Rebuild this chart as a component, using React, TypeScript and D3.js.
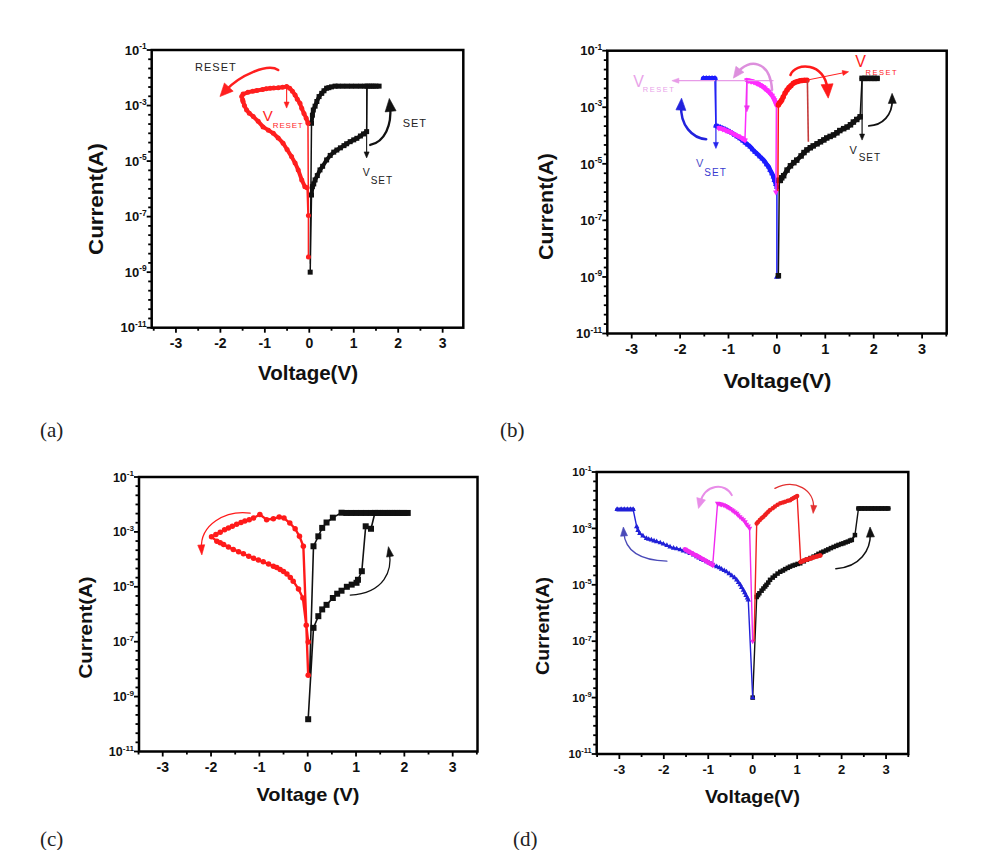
import React from 'react';
import * as d3 from 'd3';

type Pt = [number, number];
type Mk = 'square' | 'circle' | 'up' | 'down';

// ---------------- shared ticks ----------------
const voltTicks = [-3, -2, -1, 0, 1, 2, 3];
const expLabels = [-11, -9, -7, -5, -3, -1];
const panelLabels = ['(a)', '(b)', '(c)', '(d)'];

// ---------------- (a) ----------------
const aSetStart: Pt[] = [[0.02, 1e-9]];
const aSetHRS: Pt[] = [[0.05, 6e-7], [0.07, 1.2e-6], [0.1, 1.5e-6], [0.13, 2.1e-6], [0.18, 3e-6], [0.24, 4.8e-6], [0.3, 6.5e-6], [0.39, 1.1e-5], [0.47, 1.6e-5], [0.55, 2.1e-5], [0.62, 2.5e-5], [0.7, 3e-5], [0.78, 3.6e-5], [0.84, 4.2e-5], [0.92, 5e-5], [1.0, 5.8e-5], [1.07, 6.6e-5], [1.15, 8e-5], [1.22, 9.5e-5], [1.29, 1.15e-4]];
const aSetLRS: Pt[] = [[1.3, 5e-3], [1.4, 5e-3], [1.5, 5e-3], [1.57, 5e-3], [1.45, 5e-3], [1.35, 5e-3], [1.25, 5e-3], [1.15, 5e-3], [1.05, 5e-3], [0.95, 5e-3], [0.85, 5e-3], [0.75, 5e-3], [0.65, 5e-3], [0.58, 5e-3], [0.5, 4.7e-3], [0.44, 4.4e-3], [0.39, 4.2e-3], [0.33, 3.4e-3], [0.28, 2.75e-3], [0.22, 2.1e-3], [0.17, 1.4e-3], [0.13, 9.5e-4], [0.09, 6.9e-4], [0.07, 4.5e-4], [0.05, 2.3e-4]];
const aSetEnd: Pt[] = [[0.02, 2e-9]];
const aResetStart: Pt[] = [[-0.02, 3.5e-9], [-0.02, 1.1e-7]];
const aResetLRS: Pt[] = [[-0.03, 2.3e-4], [-0.07, 3.5e-4], [-0.12, 5.2e-4], [-0.17, 8e-4], [-0.21, 1.2e-3], [-0.27, 1.7e-3], [-0.32, 2.4e-3], [-0.38, 3.3e-3], [-0.44, 4.2e-3], [-0.51, 4.8e-3], [-0.6, 4.6e-3], [-0.7, 4.4e-3], [-0.8, 4.3e-3], [-0.88, 4.2e-3], [-0.97, 4e-3], [-1.05, 3.8e-3], [-1.18, 3.5e-3], [-1.27, 3.3e-3], [-1.38, 3e-3], [-1.49, 2.6e-3], [-1.52, 2.1e-3]];
const aResetHRS: Pt[] = [[-1.5, 1.6e-3], [-1.49, 1.4e-3], [-1.46, 1e-3], [-1.41, 6.9e-4], [-1.35, 5.3e-4], [-1.26, 4e-4], [-1.15, 2.7e-4], [-1.04, 1.7e-4], [-0.92, 1.3e-4], [-0.81, 1e-4], [-0.7, 6.8e-5], [-0.59, 4.4e-5], [-0.5, 2.6e-5], [-0.4, 1.45e-5], [-0.32, 8.5e-6], [-0.25, 4.8e-6], [-0.17, 2.1e-6], [-0.1, 1.2e-6], [-0.05, 1.1e-6]];
const aResetEnd: Pt[] = [[-0.03, 1.1e-7]];

// ---------------- (b) ----------------
const bSetStart: Pt[] = [[0.03, 1.1e-9]];
const bSetHRS: Pt[] = [[0.05, 2.6e-6], [0.07, 2.6e-6], [0.1, 3.2e-6], [0.14, 3.8e-6], [0.21, 6e-6], [0.28, 8.5e-6], [0.35, 1.1e-5], [0.41, 1.35e-5], [0.5, 1.9e-5], [0.56, 2.5e-5], [0.62, 3.1e-5], [0.69, 3.7e-5], [0.75, 4.3e-5], [0.83, 5.1e-5], [0.9, 6e-5], [0.97, 7e-5], [1.03, 8.2e-5], [1.1, 9.3e-5], [1.17, 1.05e-4], [1.24, 1.25e-4], [1.3, 1.5e-4], [1.38, 1.75e-4], [1.45, 2e-4], [1.52, 2.4e-4], [1.58, 3e-4], [1.65, 3.7e-4], [1.72, 4.6e-4]];
const bSetLRS: Pt[] = [[1.76, 1.05e-2], [1.82, 1.05e-2], [1.88, 1.05e-2], [1.95, 1.05e-2], [2.01, 1.05e-2], [2.07, 1.05e-2]];
const bResetPosStart: Pt[] = [[0.02, 1.1e-6]];
const bResetPosLRS: Pt[] = [[0.03, 1.2e-3], [0.05, 1.4e-3], [0.08, 1.6e-3], [0.1, 1.8e-3], [0.13, 2.3e-3], [0.17, 3.2e-3], [0.21, 4.1e-3], [0.25, 5e-3], [0.29, 5.8e-3], [0.34, 7.1e-3], [0.38, 7.7e-3], [0.43, 8.2e-3], [0.48, 8.7e-3], [0.52, 8.9e-3], [0.57, 9e-3], [0.62, 9.1e-3]];
const bResetPosDrop: Pt[] = [[0.63, 9.1e-3], [0.65, 6e-5]];
const bResetNegStart: Pt[] = [[-0.02, 1e-6]];
const bResetNegLRS: Pt[] = [[-0.01, 1.2e-3], [-0.03, 1.5e-3], [-0.05, 1.8e-3], [-0.07, 2.1e-3], [-0.1, 2.6e-3], [-0.14, 3.1e-3], [-0.17, 3.6e-3], [-0.21, 4.1e-3], [-0.25, 4.7e-3], [-0.28, 5.2e-3], [-0.32, 5.8e-3], [-0.35, 6.2e-3], [-0.39, 6.8e-3], [-0.42, 7.2e-3], [-0.45, 7.6e-3], [-0.48, 7.9e-3], [-0.52, 8.3e-3], [-0.55, 8.5e-3], [-0.59, 8.8e-3], [-0.62, 9.1e-3]];
const bResetNegHRS: Pt[] = [[-0.66, 6.9e-5], [-0.72, 8e-5], [-0.8, 9.5e-5], [-0.88, 1.1e-4], [-0.97, 1.35e-4], [-1.05, 1.5e-4], [-1.12, 1.7e-4], [-1.2, 1.85e-4]];
const bSetNegStart: Pt[] = [[0.0, 1e-9]];
const bSetNegHRS: Pt[] = [[0, 1.5e-6], [-0.02, 1.9e-6], [-0.05, 2.6e-6], [-0.07, 3.5e-6], [-0.1, 4.5e-6], [-0.14, 6e-6], [-0.17, 7.9e-6], [-0.21, 9.5e-6], [-0.25, 1.2e-5], [-0.3, 1.5e-5], [-0.35, 1.8e-5], [-0.4, 2.2e-5], [-0.45, 2.6e-5], [-0.5, 3.2e-5], [-0.55, 4e-5], [-0.6, 4.7e-5], [-0.65, 5.5e-5], [-0.7, 6.5e-5], [-0.76, 7.9e-5], [-0.82, 9.2e-5], [-0.87, 1.05e-4], [-0.92, 1.2e-4], [-0.97, 1.35e-4], [-1.02, 1.5e-4], [-1.07, 1.65e-4], [-1.12, 1.8e-4], [-1.17, 1.95e-4], [-1.22, 2.1e-4], [-1.26, 2.2e-4]];
const bSetNegLRS: Pt[] = [[-1.28, 1.05e-2], [-1.34, 1.05e-2], [-1.4, 1.05e-2], [-1.46, 1.05e-2], [-1.52, 1.05e-2]];

// ---------------- (c) ----------------
const cSetHRS: Pt[] = [[0.01, 1.5e-10], [0.12, 3.2e-7], [0.22, 8.5e-7], [0.3, 1.5e-6], [0.39, 2.2e-6], [0.52, 3.9e-6], [0.61, 5.6e-6], [0.7, 7.2e-6], [0.81, 1e-5], [0.91, 1.2e-5], [1.01, 1.4e-5], [1.04, 1.8e-5], [1.12, 3.7e-5], [1.2, 1.6e-3], [1.31, 1.3e-3], [1.39, 4.9e-3]];
const cSetFlat: Pt[] = [[1.39, 4.9e-3], [1.5, 4.9e-3], [1.6, 4.9e-3], [1.7, 4.9e-3], [1.8, 4.9e-3], [1.9, 4.9e-3], [2.0, 4.9e-3], [2.07, 4.9e-3], [1.95, 4.9e-3], [1.85, 4.9e-3], [1.75, 4.9e-3], [1.65, 4.9e-3], [1.55, 4.9e-3], [1.45, 4.9e-3], [1.3, 4.9e-3], [1.2, 4.9e-3], [1.1, 4.9e-3], [1.0, 4.9e-3], [0.9, 4.9e-3], [0.8, 4.9e-3], [0.7, 5e-3]];
const cSetLRS: Pt[] = [[0.52, 3.3e-3], [0.39, 2.2e-3], [0.3, 1.4e-3], [0.22, 6.9e-4], [0.12, 3e-4]];
const cSetEnd: Pt[] = [[0.04, 6e-9]];
const cReset: Pt[] = [[0.01, 6e-9], [-0.09, 3e-4], [-0.17, 6.9e-4], [-0.26, 1.3e-3], [-0.37, 2.1e-3], [-0.49, 3.2e-3], [-0.59, 3.5e-3], [-0.71, 3e-3], [-0.85, 2.8e-3], [-0.99, 4.3e-3], [-1.12, 3.2e-3], [-1.21, 2.8e-3], [-1.3, 2.5e-3], [-1.38, 2.2e-3], [-1.47, 1.9e-3], [-1.56, 1.6e-3], [-1.64, 1.4e-3], [-1.72, 1.2e-3], [-1.81, 9.8e-4], [-1.9, 8e-4], [-1.99, 6.6e-4], [-1.88, 4.6e-4], [-1.81, 4e-4], [-1.74, 3.5e-4], [-1.64, 2.8e-4], [-1.54, 2.3e-4], [-1.43, 1.9e-4], [-1.33, 1.6e-4], [-1.22, 1.3e-4], [-1.12, 1.1e-4], [-1.02, 9.4e-5], [-0.92, 8.1e-5], [-0.81, 6.7e-5], [-0.71, 5.6e-5], [-0.64, 5e-5], [-0.57, 4.3e-5], [-0.5, 3.6e-5], [-0.43, 2.9e-5], [-0.36, 2.2e-5], [-0.3, 1.6e-5], [-0.19, 8.3e-6], [-0.1, 3.9e-6], [-0.03, 4e-7], [0.01, 9.8e-8]];

// ---------------- (d) ----------------
const dSetStart: Pt[] = [[0.0, 1e-9]];
const dSetHRS: Pt[] = [[0.09, 3.7e-6], [0.12, 4.3e-6], [0.15, 5e-6], [0.2, 6.2e-6], [0.24, 7.4e-6], [0.28, 8.7e-6], [0.31, 1e-5], [0.35, 1.2e-5], [0.39, 1.5e-5], [0.45, 1.8e-5], [0.5, 2.1e-5], [0.56, 2.5e-5], [0.62, 2.9e-5], [0.68, 3.2e-5], [0.73, 3.6e-5], [0.79, 4e-5], [0.84, 4.4e-5], [0.9, 4.8e-5], [0.95, 5.1e-5], [1.01, 5.5e-5], [1.07, 5.8e-5], [1.15, 6.8e-5], [1.22, 7.8e-5], [1.3, 8.9e-5], [1.37, 1e-4], [1.43, 1.1e-4], [1.48, 1.25e-4], [1.54, 1.38e-4], [1.59, 1.5e-4], [1.65, 1.65e-4], [1.7, 1.8e-4], [1.76, 2e-4], [1.82, 2.2e-4], [1.88, 2.4e-4], [1.93, 2.6e-4], [1.99, 2.8e-4], [2.04, 2.95e-4], [2.09, 3.2e-4], [2.14, 3.4e-4], [2.19, 3.7e-4], [2.23, 3.9e-4], [2.3, 5.8e-4]];
const dSetLRS: Pt[] = [[2.38, 5.1e-3], [2.45, 5.1e-3], [2.52, 5.1e-3], [2.6, 5.1e-3], [2.68, 5.1e-3], [2.75, 5.1e-3], [2.83, 5.1e-3], [2.9, 5.1e-3], [2.98, 5.1e-3], [3.05, 5.1e-3]];
const dResetPosStart: Pt[] = [[0.03, 1e-7]];
const dResetPosLRS: Pt[] = [[0.09, 1.5e-3], [0.12, 1.7e-3], [0.16, 2e-3], [0.2, 2.3e-3], [0.24, 2.6e-3], [0.28, 3e-3], [0.31, 3.4e-3], [0.35, 3.9e-3], [0.39, 4.5e-3], [0.45, 5.2e-3], [0.5, 6e-3], [0.56, 6.9e-3], [0.62, 7.8e-3], [0.68, 8.3e-3], [0.73, 8.9e-3], [0.79, 9.5e-3], [0.84, 1e-2], [0.88, 1.1e-2], [0.92, 1.2e-2], [0.96, 1.3e-2], [1.0, 1.4e-2]];
const dResetPosHRS: Pt[] = [[1.08, 6.5e-5], [1.15, 7.2e-5], [1.22, 7.9e-5], [1.3, 8.6e-5], [1.37, 9.4e-5], [1.45, 1.02e-4], [1.52, 1.1e-4]];
const dResetNegStart: Pt[] = [[0.0, 1e-7]];
const dResetNegLRS: Pt[] = [[-0.07, 1e-3], [-0.1, 1.2e-3], [-0.14, 1.4e-3], [-0.17, 1.7e-3], [-0.21, 2e-3], [-0.25, 2.3e-3], [-0.29, 2.6e-3], [-0.33, 3e-3], [-0.36, 3.4e-3], [-0.4, 3.8e-3], [-0.44, 4.2e-3], [-0.47, 4.6e-3], [-0.51, 5.1e-3], [-0.55, 5.5e-3], [-0.58, 5.9e-3], [-0.62, 6.4e-3], [-0.66, 6.8e-3], [-0.7, 7.1e-3], [-0.73, 7.3e-3], [-0.76, 7.6e-3], [-0.79, 7.8e-3]];
const dResetNegHRS: Pt[] = [[-0.9, 5e-5], [-0.98, 6e-5], [-1.06, 7.2e-5], [-1.14, 8.5e-5], [-1.22, 1e-4], [-1.3, 1.15e-4], [-1.38, 1.35e-4], [-1.45, 1.55e-4], [-1.52, 1.8e-4]];
const dSetNegStart: Pt[] = [[0.0, 1e-9]];
const dSetNegHRS: Pt[] = [[-0.1, 2.9e-6], [-0.12, 3.4e-6], [-0.15, 4.2e-6], [-0.18, 5.2e-6], [-0.21, 6.5e-6], [-0.25, 8e-6], [-0.28, 1e-5], [-0.32, 1.2e-5], [-0.36, 1.5e-5], [-0.41, 1.8e-5], [-0.47, 2.1e-5], [-0.53, 2.5e-5], [-0.59, 2.9e-5], [-0.64, 3.2e-5], [-0.7, 3.6e-5], [-0.75, 4e-5], [-0.81, 4.4e-5], [-0.87, 4.9e-5], [-0.92, 5.5e-5], [-0.98, 6e-5], [-1.04, 6.6e-5], [-1.1, 7.3e-5], [-1.15, 8e-5], [-1.21, 9e-5], [-1.26, 1e-4], [-1.33, 1.15e-4], [-1.41, 1.3e-4], [-1.48, 1.45e-4], [-1.56, 1.6e-4], [-1.63, 1.75e-4], [-1.71, 1.9e-4], [-1.78, 2e-4], [-1.86, 2.2e-4], [-1.93, 2.5e-4], [-2.01, 2.8e-4], [-2.08, 3.1e-4], [-2.16, 3.4e-4], [-2.22, 3.6e-4], [-2.28, 3.9e-4], [-2.34, 4.1e-4], [-2.39, 4.4e-4], [-2.47, 5.4e-4], [-2.54, 6.6e-4], [-2.58, 8.5e-4], [-2.61, 1.15e-3]];
const dSetNegLRS: Pt[] = [[-2.69, 4.7e-3], [-2.75, 4.7e-3], [-2.82, 4.7e-3], [-2.89, 4.7e-3], [-2.96, 4.7e-3], [-3.05, 4.7e-3]];

// ---------------- annotations (data units) ----------------
const aArrowReset: Pt[] = [[-0.7, 0.019], [-0.93, 0.034], [-1.56, 0.0126], [-2.01, 0.0021]];
const aArrowVreset: Pt[] = [[-0.51, 4.9e-3], [-0.51, 8.1e-4]];
const aArrowVset: Pt[] = [[1.29, 5e-3], [1.29, 1.3e-5]];
const aArrowSet: Pt[] = [[1.37, 3.8e-5], [1.7, 4.9e-5], [1.86, 2e-4], [1.8, 1.8e-3]];
const bArrowPinkLine: Pt[] = [[-0.08, 8.7e-3], [-2.17, 8.7e-3]];
const bArrowPinkCurve: Pt[] = [[-0.1, 4.1e-3], [-0.14, 0.047], [-0.59, 0.055], [-0.9, 0.0107]];
const bArrowMagDown: Pt[] = [[-0.62, 9.1e-3], [-0.62, 6.9e-4]];
const bArrowBlueDown: Pt[] = [[-1.26, 9.1e-3], [-1.26, 3.5e-5]];
const bArrowBlueCurve: Pt[] = [[-1.46, 7.4e-5], [-1.75, 8.1e-5], [-2.0, 2.3e-4], [-1.97, 2.1e-3]];
const bArrowRedLine: Pt[] = [[0.62, 9.1e-3], [1.48, 0.018]];
const bArrowRedCurve: Pt[] = [[0.28, 0.0138], [0.38, 0.04], [1.0, 0.04], [1.06, 2.1e-3]];
const bArrowBlackDown: Pt[] = [[1.76, 9.1e-3], [1.76, 6.9e-5]];
const bArrowBlackCurve: Pt[] = [[1.9, 2.2e-4], [2.18, 2.3e-4], [2.39, 5.2e-4], [2.38, 3.1e-3]];
const cArrowRed: Pt[] = [[-1.19, 4.8e-3], [-1.71, 6.3e-3], [-2.23, 1.8e-3], [-2.19, 1.45e-4]];
const cArrowBlack: Pt[] = [[0.88, 5e-6], [1.6, 5.9e-6], [1.75, 4.1e-5], [1.67, 2.9e-4]];
const dArrowBlue: Pt[] = [[-1.93, 6.9e-5], [-2.54, 7.4e-5], [-2.87, 1.66e-4], [-2.91, 1.12e-3]];
const dArrowMag: Pt[] = [[-0.47, 0.0151], [-0.62, 0.0437], [-1.07, 0.0372], [-1.22, 5.1e-3]];
const dArrowRed: Pt[] = [[0.5, 0.0263], [0.95, 0.0617], [1.4, 0.0229], [1.36, 3.4e-3]];
const dArrowBlack: Pt[] = [[1.87, 3.7e-5], [2.41, 4.2e-5], [2.66, 1.66e-4], [2.64, 1.12e-3]];

// ---------------- rendering ----------------
const FONT = "Arial, 'Liberation Sans', Helvetica, sans-serif";
const SERIF = "'Times New Roman', 'Liberation Serif', serif";

interface Seg { pts: Pt[]; w: number; mk: boolean }
interface Series { color: string; mk: Mk; size: number; lw: number; segs: Seg[] }
interface Arrow { p: Pt[]; color: string; w: number; head: [number, number] }
interface Note { at: Pt; text: string; size: number; color: string; ls?: number }
interface Cfg {
  l: number; r: number; x0: number; pxV: number; y1: number; y11: number;
  label: string; labelXY: [number, number];
  xTitle: string; xTitleXY: [number, number]; xTitleLen: number;
  yTitleXY: [number, number]; yTitleLen: number; titleSize: number;
  tickSize: number; expBase: number;
  series: Series[]; arrows: Arrow[]; notes: Note[];
}

const seg = (pts: Pt[], w = 0, mk = true): Seg => ({ pts, w, mk });

function symbolPath(mk: Mk, s: number): string {
  if (mk === 'square') return d3.symbol().type(d3.symbolSquare).size(s * s)() || '';
  if (mk === 'circle') return d3.symbol().type(d3.symbolCircle).size((Math.PI * s * s) / 4)() || '';
  return d3.symbol().type(d3.symbolTriangle).size(s * s * 0.5)() || '';
}

const BLK = '#111';

const cfgs: Cfg[] = [
  {
    l: 151.7, r: 463.3, x0: 309.3, pxV: 44.45, y1: 50, y11: 327.7,
    label: panelLabels[0], labelXY: [40, 437],
    xTitle: 'Voltage(V)', xTitleXY: [308, 380], xTitleLen: 100,
    yTitleXY: [96, 199], yTitleLen: 112, titleSize: 20, tickSize: 14, expBase: 13,
    series: [
      { color: BLK, mk: 'square', size: 5, lw: 1.5, segs: [seg(aSetStart), seg(aSetHRS, 4), seg(aSetLRS, 4), seg(aSetEnd, 0, false)] },
      { color: '#ff1f1f', mk: 'circle', size: 5, lw: 1.5, segs: [seg(aResetStart), seg(aResetLRS, 4), seg(aResetHRS, 4), seg(aResetEnd, 0, false)] },
    ],
    arrows: [
      { p: aArrowReset, color: '#ff1f1f', w: 2.5, head: [13, 6] },
      { p: aArrowVreset, color: '#ff1f1f', w: 1.1, head: [6, 2.5] },
      { p: aArrowVset, color: BLK, w: 1.1, head: [6, 2.5] },
      { p: aArrowSet, color: BLK, w: 2.3, head: [13, 5.5] },
    ],
    notes: [
      { at: [-2.57, 0.0174], text: 'RESET', size: 11, color: '#222', ls: 1 },
      { at: [2.1, 1.74e-4], text: 'SET', size: 11, color: '#222', ls: 1 },
      { at: [-1.05, 2.8e-4], text: 'V', size: 15, color: '#ff1f1f' },
      { at: [-0.82, 1.5e-4], text: 'RESET', size: 8, color: '#ff1f1f', ls: 0.8 },
      { at: [1.2, 2.8e-6], text: 'V', size: 10.5, color: '#222' },
      { at: [1.38, 1.5e-6], text: 'SET', size: 10, color: '#222', ls: 1 },
    ],
  },
  {
    l: 607.3, r: 946.7, x0: 776.9, pxV: 48.4, y1: 50.7, y11: 333.5,
    label: panelLabels[1], labelXY: [500, 437],
    xTitle: 'Voltage(V)', xTitleXY: [777.5, 388], xTitleLen: 108,
    yTitleXY: [546, 206.5], yTitleLen: 107, titleSize: 20, tickSize: 14.5, expBase: 13,
    series: [
      { color: '#1c1cff', mk: 'up', size: 5.5, lw: 1.5, segs: [seg(bSetNegStart), seg(bSetNegHRS, 4.5), seg(bSetNegLRS, 5)] },
      { color: '#ff2bff', mk: 'down', size: 5.5, lw: 1.5, segs: [seg(bResetNegStart), seg(bResetNegLRS, 4.5), seg(bResetNegHRS, 4.5)] },
      { color: BLK, mk: 'square', size: 5.5, lw: 1.5, segs: [seg(bSetStart), seg(bSetHRS, 4.5), seg(bSetLRS, 5)] },
      { color: '#ff1414', mk: 'circle', size: 5.5, lw: 1.5, segs: [seg(bResetPosStart, 0, false), seg(bResetPosLRS, 4.5)] },
      { color: '#c43a3a', mk: 'circle', size: 0, lw: 1.6, segs: [seg(bResetPosDrop, 0, false)] },
    ],
    arrows: [
      { p: bArrowPinkLine, color: '#e79be7', w: 1.3, head: [7, 2.5] },
      { p: bArrowPinkCurve, color: '#dd8fdd', w: 2.5, head: [11, 5] },
      { p: bArrowMagDown, color: '#ee33ee', w: 1.2, head: [6, 2.5] },
      { p: bArrowBlueDown, color: '#2525ee', w: 1.2, head: [6, 2.5] },
      { p: bArrowBlueCurve, color: '#2222dd', w: 2.5, head: [12, 5] },
      { p: bArrowRedLine, color: '#ff2020', w: 1, head: [6, 2.5] },
      { p: bArrowRedCurve, color: '#ff1a1a', w: 2.5, head: [14, 6] },
      { p: bArrowBlackDown, color: BLK, w: 1.2, head: [6, 2.5] },
      { p: bArrowBlackCurve, color: BLK, w: 1.8, head: [10, 4] },
    ],
    notes: [
      { at: [-2.97, 5.4e-3], text: 'V', size: 16, color: '#e9a3e9' },
      { at: [-2.77, 3.5e-3], text: 'RESET', size: 7.5, color: '#e9a3e9', ls: 1.5 },
      { at: [1.62, 0.0257], text: 'V', size: 16, color: '#ff2020' },
      { at: [1.83, 0.0138], text: 'RESET', size: 7.5, color: '#ff2020', ls: 1.5 },
      { at: [1.5, 2.2e-5], text: 'V', size: 11, color: '#222' },
      { at: [1.69, 1.3e-5], text: 'SET', size: 10, color: '#222', ls: 1 },
      { at: [-1.67, 7.6e-6], text: 'V', size: 11, color: '#5050c8' },
      { at: [-1.5, 3.8e-6], text: 'SET', size: 10, color: '#3a3ad0', ls: 1 },
    ],
  },
  {
    l: 139, r: 477.5, x0: 307.7, pxV: 48.33, y1: 477, y11: 751.5,
    label: panelLabels[2], labelXY: [40, 846],
    xTitle: 'Voltage (V)', xTitleXY: [308, 801], xTitleLen: 103,
    yTitleXY: [85, 627.5], yTitleLen: 102, titleSize: 19, tickSize: 14, expBase: 12.5,
    series: [
      { color: BLK, mk: 'square', size: 6, lw: 1.6, segs: [seg(cSetHRS), seg(cSetFlat, 4.5), seg(cSetLRS), seg(cSetEnd, 0, false)] },
      { color: '#ff1a1a', mk: 'circle', size: 5.5, lw: 2.4, segs: [seg(cReset)] },
    ],
    arrows: [
      { p: cArrowRed, color: '#ff1a1a', w: 1.3, head: [10, 3.5] },
      { p: cArrowBlack, color: BLK, w: 1.3, head: [10, 3.5] },
    ],
    notes: [],
  },
  {
    l: 596.7, r: 908.3, x0: 752.7, pxV: 44.45, y1: 472, y11: 754,
    label: panelLabels[3], labelXY: [513, 846],
    xTitle: 'Voltage(V)', xTitleXY: [752.5, 803], xTitleLen: 95,
    yTitleXY: [543, 626], yTitleLen: 98, titleSize: 18, tickSize: 13, expBase: 11.5,
    series: [
      { color: BLK, mk: 'square', size: 4.5, lw: 1.4, segs: [seg(dSetStart), seg(dSetHRS, 2), seg(dSetLRS, 4.5)] },
      { color: '#2020d8', mk: 'up', size: 5, lw: 1.4, segs: [seg(dSetNegStart), seg(dSetNegHRS, 2), seg(dSetNegLRS, 4)] },
      { color: '#f02af0', mk: 'down', size: 5, lw: 1.4, segs: [seg(dResetNegStart), seg(dResetNegLRS, 2), seg(dResetNegHRS, 4.5)] },
      { color: '#f02020', mk: 'circle', size: 4.5, lw: 1.4, segs: [seg(dResetPosStart, 0, false), seg(dResetPosLRS, 2), seg(dResetPosHRS, 4.5)] },
    ],
    arrows: [
      { p: dArrowBlue, color: '#4a4ab8', w: 1.3, head: [9, 3.5] },
      { p: dArrowMag, color: '#e88de8', w: 2, head: [10, 4.5] },
      { p: dArrowRed, color: '#e23030', w: 1.3, head: [8, 3] },
      { p: dArrowBlack, color: BLK, w: 1.5, head: [10, 4] },
    ],
    notes: [],
  },
];

function Panel({ c }: { c: Cfg }) {
  const x = d3.scaleLinear().domain([(c.l - c.x0) / c.pxV, (c.r - c.x0) / c.pxV]).range([c.l, c.r]);
  const y = d3.scaleLog().domain([1e-11, 1e-1]).range([c.y11, c.y1]);
  const line = d3.line<Pt>().x((d) => x(d[0])).y((d) => y(d[1]));
  const t = c.y1;
  const b = c.y11;

  const halfTicks = d3.range(-7, 8).map((k) => k / 2).filter((v) => x(v) >= c.l - 0.5 && x(v) <= c.r + 0.5);
  const yTicks = d3.range(0, 31).map((k) => ({ e: -11 + k / 3, major: k % 6 === 0 }));

  const arrowEls = (a: Arrow, i: number) => {
    const P = a.p.map(([v, cur]) => [x(v), y(cur)] as [number, number]);
    const e = P[P.length - 1];
    const prev = P[P.length - 2];
    let dx = e[0] - prev[0];
    let dy = e[1] - prev[1];
    const len = Math.hypot(dx, dy) || 1;
    dx /= len;
    dy /= len;
    const [L, H] = a.head;
    const bx = e[0] - dx * L;
    const by = e[1] - dy * L;
    const sx = e[0] - dx * L * 0.6;
    const sy = e[1] - dy * L * 0.6;
    const d = P.length === 2
      ? `M${P[0][0]},${P[0][1]}L${sx},${sy}`
      : `M${P[0][0]},${P[0][1]}C${P[1][0]},${P[1][1]} ${P[2][0]},${P[2][1]} ${sx},${sy}`;
    const head = `M${e[0]},${e[1]}L${bx - dy * H},${by + dx * H}L${bx + dy * H},${by - dx * H}Z`;
    return (
      <g key={`ar${i}`}>
        <path d={d} fill="none" stroke={a.color} strokeWidth={a.w} strokeLinecap="round" />
        <path d={head} fill={a.color} stroke={a.color} strokeWidth={0.6} strokeLinejoin="round" />
      </g>
    );
  };

  return (
    <g>
      {c.series.map((s, si) => {
        const all = s.segs.flatMap((g) => g.pts);
        const sym = s.size > 0 ? symbolPath(s.mk, s.size) : '';
        return (
          <g key={`s${si}`}>
            <path d={line(all) || ''} fill="none" stroke={s.color} strokeWidth={s.lw} strokeLinejoin="round" />
            {s.segs.filter((g) => g.w > 0).map((g, gi) => (
              <path key={`b${gi}`} d={line(g.pts) || ''} fill="none" stroke={s.color} strokeWidth={g.w} strokeLinejoin="round" strokeLinecap="round" />
            ))}
            {sym && s.segs.filter((g) => g.mk).flatMap((g) => g.pts).map((p, pi) => (
              <path key={`m${pi}`} d={sym} fill={s.color} transform={`translate(${x(p[0])},${y(p[1])})${s.mk === 'down' ? ' rotate(180)' : ''}`} />
            ))}
          </g>
        );
      })}

      {c.arrows.map(arrowEls)}
      {c.notes.map((n, i) => (
        <text key={`n${i}`} x={x(n.at[0])} y={y(n.at[1])} fontSize={n.size} fill={n.color} letterSpacing={n.ls || 0} fontFamily={FONT}>
          {n.text}
        </text>
      ))}

      <rect x={c.l} y={t} width={c.r - c.l} height={b - t} fill="none" stroke="#000" strokeWidth={2.5} />

      {halfTicks.map((v, i) => {
        const major = Math.abs(v - Math.round(v)) < 1e-6;
        return <line key={`xt${i}`} x1={x(v)} x2={x(v)} y1={b} y2={b + (major ? 5 : 3)} stroke="#000" strokeWidth={1.8} />;
      })}
      {voltTicks.map((v) => (
        <text key={`xl${v}`} x={x(v)} y={b + 20} textAnchor="middle" fontSize={c.tickSize} fontWeight={700} fontFamily={FONT} fill="#111">
          {v}
        </text>
      ))}

      {yTicks.map((tk, i) => {
        const yy = y(Math.pow(10, tk.e));
        return <line key={`yt${i}`} x1={c.l} x2={c.l - (tk.major ? 5 : 3.5)} y1={yy} y2={yy} stroke="#000" strokeWidth={1.8} />;
      })}
      {expLabels.map((e) => (
        <text key={`yl${e}`} x={c.l - 5} y={y(Math.pow(10, e)) + c.expBase * 0.36} textAnchor="end" fontSize={c.expBase} fontWeight={700} fontFamily={FONT} fill="#111">
          10
          <tspan fontSize={c.expBase * 0.65} dy={-c.expBase * 0.42}>{e}</tspan>
        </text>
      ))}

      <text x={c.xTitleXY[0]} y={c.xTitleXY[1]} textAnchor="middle" fontSize={c.titleSize} fontWeight={700} fontFamily={FONT} fill="#111" textLength={c.xTitleLen} lengthAdjust="spacingAndGlyphs">
        {c.xTitle}
      </text>
      <text transform={`translate(${c.yTitleXY[0]},${c.yTitleXY[1]}) rotate(-90)`} textAnchor="middle" dominantBaseline="central" fontSize={c.titleSize} fontWeight={700} fontFamily={FONT} fill="#111" textLength={c.yTitleLen} lengthAdjust="spacingAndGlyphs">
        Current(A)
      </text>

      <text x={c.labelXY[0]} y={c.labelXY[1]} fontSize={21} fontFamily={SERIF} fill="#222">
        {c.label}
      </text>
    </g>
  );
}

export default function App() {
  return (
    <svg width={988} height={850} style={{ position: 'absolute', left: 0, top: 0, background: '#fff' }}>
      <rect width={988} height={850} fill="#fff" />
      {cfgs.map((c, i) => (
        <Panel key={i} c={c} />
      ))}
    </svg>
  );
}
